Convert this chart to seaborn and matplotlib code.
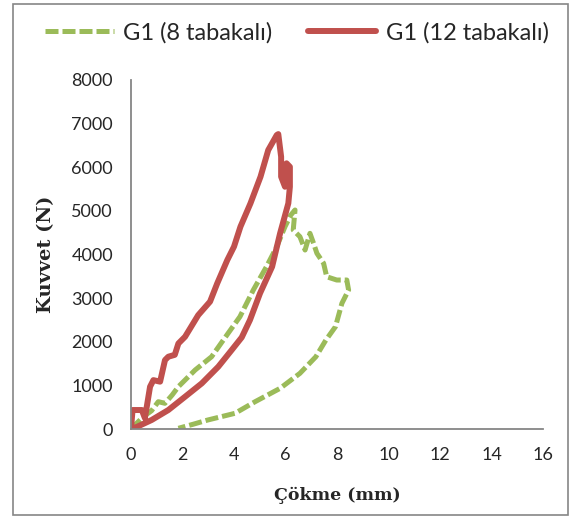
import matplotlib
matplotlib.use("Agg")
import matplotlib.pyplot as plt
import seaborn as sns
from matplotlib.patches import Rectangle

# G1 (8 tabakalı) - loading / unloading path
g8_x = [0.0, 0.2, 0.48, 0.8, 1.06, 1.32, 1.6, 1.84, 2.49, 3.13, 3.77, 4.23, 4.75, 5.26,
        5.66, 5.98, 6.2, 6.37, 6.3, 6.56, 6.76, 6.95, 7.09, 7.22, 7.48, 7.6, 7.99,
        8.38, 8.45, 8.19, 7.94, 7.57, 7.18, 6.56, 5.79, 4.82, 4.04, 2.98, 2.42, 1.84]
g8_y = [0, 120, 282, 420, 626, 589, 780, 970, 1352, 1657, 2193, 2574, 3186, 3720,
        4180, 4637, 4900, 5020, 4561, 4408, 4103, 4485, 4256, 4027, 3797, 3490, 3415,
        3415, 3186, 2880, 2345, 2040, 1657, 1276, 932, 626, 360, 206, 110, 16]

# G1 (12 tabakalı)
g12_x = [0.0, 0.06, 0.16, 0.42, 0.54, 0.74, 0.87, 1.13, 1.32, 1.45, 1.7, 1.84, 2.1, 2.61,
         3.07, 3.35, 3.74, 4.0, 4.25, 4.64, 5.03, 5.33, 5.66, 5.72, 5.83, 5.83, 5.98, 6.04,
         6.17, 6.17, 6.11, 5.79, 5.48, 5.01, 4.62, 4.3, 3.91, 3.39, 2.75, 2.1, 1.45, 0.8,
         0.16, 0.0]
g12_y = [0, 435, 435, 435, 250, 970, 1120, 1085, 1580, 1657, 1700, 1960, 2115, 2610,
         2920, 3340, 3873, 4180, 4637, 5173, 5783, 6394, 6738, 6760, 6240, 5783, 5553, 6090,
         6010, 5553, 5173, 4485, 3720, 3110, 2498, 2100, 1810, 1428, 1047, 740, 435, 206,
         30, 0]

x_ticks = [0, 2, 4, 6, 8, 10, 12, 14, 16]
y_ticks = [0, 1000, 2000, 3000, 4000, 5000, 6000, 7000, 8000]

sns.set_style("white")
plt.rcParams['font.family'] = ['Lato', 'DejaVu Sans']

fig = plt.figure(figsize=(5.71, 5.17), dpi=100)
ax = fig.add_axes([131 / 571, 1 - 429 / 517, 412 / 571, 349 / 517])

sns.lineplot(x=g8_x, y=g8_y, sort=False, estimator=None, ax=ax, color="#9BBB59",
             lw=3.6, linestyle=(0, (2.6, 0.8)), label="G1 (8 tabakalı)")
sns.lineplot(x=g12_x, y=g12_y, sort=False, estimator=None, ax=ax, color="#C0504D",
             lw=4.3, label="G1 (12 tabakalı)")

ax.set_xlim(0, 16)
ax.set_ylim(0, 8000)
ax.set_xticks(x_ticks)
ax.set_yticks(y_ticks)
ax.tick_params(axis="both", direction="out", length=5, width=1.2, color="#868686",
               labelsize=13, pad=8)
for side in ["top", "right"]:
    ax.spines[side].set_visible(False)
for side in ["left", "bottom"]:
    ax.spines[side].set_color("#868686")
    ax.spines[side].set_linewidth(1.3)

ax.set_xlabel("Çökme (mm)", family="DejaVu Serif", fontweight="bold", fontsize=12.5, labelpad=17)
ax.set_ylabel("Kuvvet (N)", family="DejaVu Serif", fontweight="bold", fontsize=14, labelpad=12)

leg = ax.legend(loc="center", bbox_to_anchor=(297 / 571, 1 - 33 / 517), bbox_transform=fig.transFigure,
                ncol=2, frameon=False, fontsize=17, handlelength=2.9, columnspacing=1.5,
                handletextpad=0.4)

fig.patches.append(Rectangle((13 / 571, 2 / 517), 555 / 571, 511 / 517, transform=fig.transFigure,
                             fill=False, edgecolor="#868686", lw=1.2))

fig.savefig("out.png", dpi=100)
